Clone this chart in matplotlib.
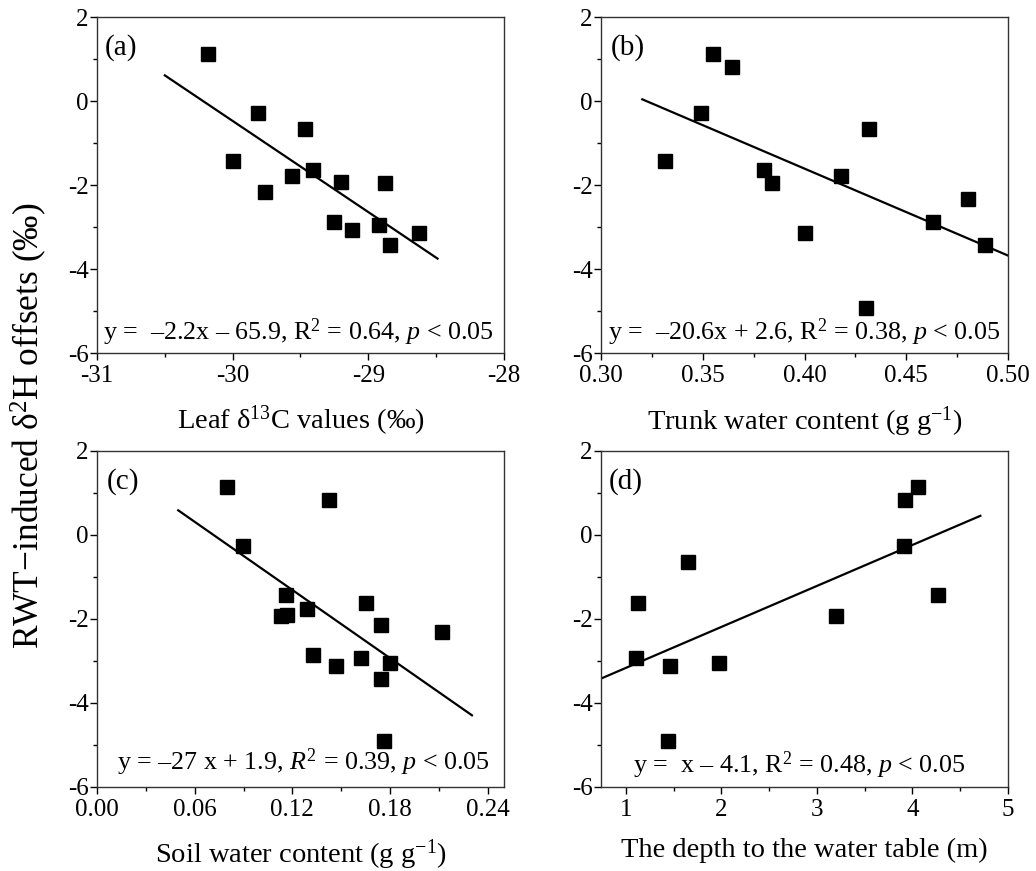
import numpy as np
import matplotlib
matplotlib.use("Agg")
import matplotlib.pyplot as plt
from matplotlib.ticker import MultipleLocator

# fonts: Times-like serif
plt.rcParams["font.family"] = "Liberation Serif"
plt.rcParams["mathtext.fontset"] = "custom"
plt.rcParams["mathtext.rm"] = "Liberation Serif"
plt.rcParams["mathtext.it"] = "Liberation Serif:italic"
plt.rcParams["axes.unicode_minus"] = False

# (a) leaf d13C
leaf_x = [-30.18, -29.81, -30.00, -29.76, -29.47, -29.56, -29.41, -29.20, -28.88, -29.25, -29.12, -28.92, -28.84, -28.63]
leaf_y = [1.12, -0.29, -1.44, -2.17, -0.66, -1.79, -1.65, -1.94, -1.96, -2.87, -3.08, -2.95, -3.44, -3.15]

# (b) trunk water content
trunk_x = [0.3316, 0.349, 0.3552, 0.3644, 0.3803, 0.3842, 0.4004, 0.4178, 0.4317, 0.4302, 0.463, 0.4805, 0.4887]
trunk_y = [-1.44, -0.29, 1.12, 0.82, -1.65, -1.96, -3.15, -1.79, -0.66, -4.94, -2.87, -2.33, -3.44]

# (c) soil water content
soil_x = [0.080, 0.1425, 0.0896, 0.1164, 0.1131, 0.1166, 0.1292, 0.1652, 0.1744, 0.2119, 0.1325, 0.147, 0.1622, 0.180, 0.1744, 0.1761]
soil_y = [1.13, 0.83, -0.27, -1.43, -1.94, -1.92, -1.78, -1.62, -2.15, -2.32, -2.86, -3.13, -2.94, -3.06, -3.43, -4.92]

# (d) depth to water table
depth_x = [1.105, 1.132, 1.463, 1.446, 1.652, 1.976, 3.202, 3.913, 3.923, 4.059, 4.265]
depth_y = [-2.94, -1.63, -3.13, -4.92, -0.65, -3.06, -1.94, -0.27, 0.83, 1.13, -1.43]

# regression lines as drawn (slope, intercept, x range)
fit_slope = [-2.17, -20.7, -27.05, 0.976]
fit_intercept = [-65.575, 6.67, 1.93, -4.148]
fit_xrange = [(-30.5, -28.49), (0.3203, 0.50), (0.0499, 0.2303), (0.756, 4.711)]

eq_labels = [
    "y =  \u20132.2x \u2013 65.9, R$^2$ = 0.64, $p$ < 0.05",
    "y =  \u201320.6x + 2.6, R$^2$ = 0.38, $p$ < 0.05",
    "y = \u201327 x + 1.9, $R^2$ = 0.39, $p$ < 0.05",
    "y =  x \u2013 4.1, R$^2$ = 0.48, $p$ < 0.05",
]
panel_labels = ["(a)", "(b)", "(c)", "(d)"]
x_labels = [
    "Leaf \u03b4$^{13}$C values (\u2030)",
    "Trunk water content (g g$^{-1}$)",
    "Soil water content (g g$^{-1}$)",
    "The depth to the water table (m)",
]

xs = [leaf_x, trunk_x, soil_x, depth_x]
ys = [leaf_y, trunk_y, soil_y, depth_y]

# axis setup per panel
xlims = [(-31, -28), (0.30, 0.50), (0.0, 0.25), (0.74, 5.0)]
xmajor = [1, 0.05, 0.06, 1]
xminor = [0.5, 0.025, 0.03, 0.5]
xfmt = ["{:.0f}", "{:.2f}", "{:.2f}", "{:.0f}"]
eq_pos = [(0.015, 0.063), (0.018, 0.062), (0.05, 0.072), (0.079, 0.065)]
lab_pos = [(0.018, 0.908), (0.024, 0.908), (0.025, 0.907), (0.02, 0.907)]

W, H = 1036, 871
fig = plt.figure(figsize=(W / 100, H / 100), dpi=100)
boxes = [(97, 17), (601, 17), (97, 450.7), (601, 450.7)]
aw, ah = 407, 336

for i in range(4):
    l, t = boxes[i]
    ax = fig.add_axes([l / W, 1 - (t + ah) / H, aw / W, ah / H])
    ax.plot(xs[i], ys[i], "s", color="black", ms=9.5, mec="black", zorder=3)
    lx = np.array(fit_xrange[i])
    ax.plot(lx, fit_slope[i] * lx + fit_intercept[i], "-", color="black", lw=1.6, zorder=2)

    ax.set_xlim(*xlims[i])
    ax.set_ylim(-6, 2)
    ax.xaxis.set_major_locator(MultipleLocator(xmajor[i]))
    ax.xaxis.set_minor_locator(MultipleLocator(xminor[i]))
    ax.yaxis.set_major_locator(MultipleLocator(2))
    ax.yaxis.set_minor_locator(MultipleLocator(1))
    f = xfmt[i]
    ax.xaxis.set_major_formatter(plt.FuncFormatter(lambda v, p, f=f: f.format(v)))
    ax.yaxis.set_major_formatter(plt.FuncFormatter(lambda v, p: "{:.0f}".format(v)))
    ax.tick_params(which="major", direction="out", length=5, width=1, labelsize=18)
    ax.tick_params(which="minor", direction="out", length=3, width=1)
    ax.tick_params(axis="x", which="major", pad=4)
    ax.tick_params(axis="y", which="major", pad=1)
    for s in ax.spines.values():
        s.set_linewidth(1.0)
        s.set_color("#333333")

    ax.set_xlabel(x_labels[i], fontsize=20.5, labelpad=12)
    ax.text(*eq_pos[i], eq_labels[i], transform=ax.transAxes, fontsize=18.7,
            ha="left", va="center")
    ax.text(*lab_pos[i], panel_labels[i], transform=ax.transAxes, fontsize=21,
            ha="left", va="center")

fig.text(29 / W, 0.511, "RWT\u2212induced \u03b4$^2$H offsets (\u2030)", rotation=90,
         fontsize=25.5, ha="center", va="center")

plt.savefig("out.png", dpi=100)
